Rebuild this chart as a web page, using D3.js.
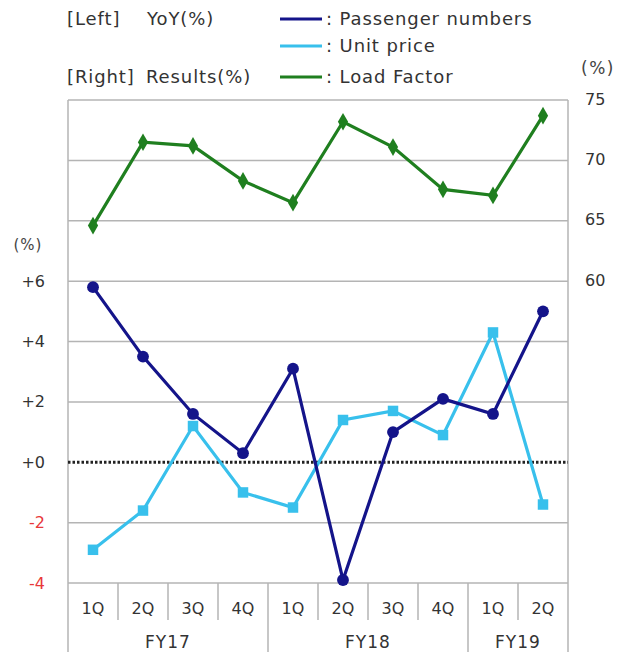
<!DOCTYPE html>
<html>
<head>
<meta charset="utf-8">
<script src="https://cdn.jsdelivr.net/npm/d3@7"></script>
<style>
  html, body { margin: 0; padding: 0; background: #fff; }
  svg { display: block; font-family: "DejaVu Sans", Verdana, sans-serif; }
</style>
</head>
<body>
<svg id="chart" width="623" height="652"></svg>
<script>
// Quarterly categories and fiscal-year groups
const quarters = ["1Q", "2Q", "3Q", "4Q", "1Q", "2Q", "3Q", "4Q", "1Q", "2Q"];
const fiscalYears = [
  { label: "FY17", start: 0, count: 4 },
  { label: "FY18", start: 4, count: 4 },
  { label: "FY19", start: 8, count: 2 }
];

// Left axis: year-over-year change (%)
const passengerYoY = [5.8, 3.5, 1.6, 0.3, 3.1, -3.9, 1.0, 2.1, 1.6, 5.0];
const unitPriceYoY = [-2.9, -1.6, 1.2, -1.0, -1.5, 1.4, 1.7, 0.9, 4.3, -1.4];
// Right axis: load factor results (%)
const loadFactor = [64.6, 71.5, 71.2, 68.3, 66.5, 73.2, 71.1, 67.6, 67.1, 73.7];

const leftTicks = [-4, -2, 0, 2, 4, 6];
const leftTickLabels = ["-4", "-2", "+0", "+2", "+4", "+6"];
const rightTicks = [60, 65, 70, 75];
const gridLeft = [-2, 2, 4, 6, 8, 10];

const colors = { passenger: "#14148a", unit: "#38c0ec", load: "#1f7f1f", grid: "#b4b4b4", red: "#e8383a", text: "#333" };

const svg = d3.select("#chart");
const m = { left: 68, right: 568, top: 100, bottom: 583 };

const x = d3.scaleBand().domain(d3.range(quarters.length)).range([m.left, m.right]);
const yL = d3.scaleLinear().domain([-4, 12]).range([m.bottom, m.top]);
const yR = d3.scaleLinear().domain([35, 75]).range([m.bottom, m.top]);
const cx = i => x(i) + x.bandwidth() / 2;

// Horizontal gridlines
svg.append("g").selectAll("line").data(gridLeft).join("line")
  .attr("x1", m.left).attr("x2", m.right)
  .attr("y1", d => yL(d)).attr("y2", d => yL(d))
  .attr("stroke", colors.grid).attr("stroke-width", 1.5);

// Plot frame (top, sides) and x baseline
const frame = svg.append("g").attr("stroke", colors.grid).attr("stroke-width", 1.5);
frame.append("line").attr("x1", m.left).attr("x2", m.right).attr("y1", m.top).attr("y2", m.top);
frame.append("line").attr("x1", m.left).attr("x2", m.right).attr("y1", m.bottom).attr("y2", m.bottom);
frame.append("line").attr("x1", m.left).attr("x2", m.left).attr("y1", m.top).attr("y2", 652);
frame.append("line").attr("x1", m.right).attr("x2", m.right).attr("y1", m.top).attr("y2", 652);

// Category separators below the axis
const boundaries = d3.range(1, quarters.length);
const groupStarts = new Set(fiscalYears.map(g => g.start));
frame.append("g").selectAll("line").data(boundaries).join("line")
  .attr("x1", d => x(d)).attr("x2", d => x(d))
  .attr("y1", m.bottom).attr("y2", d => groupStarts.has(d) ? 652 : 620);

// Quarter labels
svg.append("g").selectAll("text").data(quarters).join("text")
  .attr("x", (d, i) => cx(i)).attr("y", 608).attr("dy", "0.35em")
  .attr("text-anchor", "middle").attr("font-size", 16).attr("fill", colors.text)
  .text(d => d);

// Fiscal-year labels
svg.append("g").selectAll("text").data(fiscalYears).join("text")
  .attr("x", d => (x(d.start) + x(d.start + d.count - 1) + x.bandwidth()) / 2).attr("y", 642).attr("dy", "0.35em")
  .attr("text-anchor", "middle").attr("font-size", 17).attr("letter-spacing", 1).attr("fill", colors.text)
  .text(d => d.label);

// Zero reference line (dotted)
svg.append("line").attr("x1", m.left).attr("x2", m.right)
  .attr("y1", yL(0)).attr("y2", yL(0))
  .attr("stroke", "#222").attr("stroke-width", 3).attr("stroke-dasharray", "2.5,2");

// Left axis labels
svg.append("g").selectAll("text").data(leftTicks).join("text")
  .attr("x", 45).attr("y", d => yL(d)).attr("dy", "0.35em")
  .attr("text-anchor", "end").attr("font-size", 16)
  .attr("fill", d => d < 0 ? colors.red : colors.text)
  .text((d, i) => leftTickLabels[i]);
svg.append("text").attr("x", 28).attr("y", 245).attr("dy", "0.35em")
  .attr("text-anchor", "middle").attr("font-size", 15).attr("letter-spacing", 1).attr("fill", "#444").text("(%)");

// Right axis labels
svg.append("g").selectAll("text").data(rightTicks).join("text")
  .attr("x", 585).attr("y", d => yR(d) - 1).attr("dy", "0.35em")
  .attr("font-size", 16).attr("fill", colors.text)
  .text(d => d);
svg.append("text").attr("x", 598).attr("y", 68).attr("dy", "0.35em")
  .attr("text-anchor", "middle").attr("font-size", 17).attr("letter-spacing", 1.5).attr("fill", "#444").text("(%)");

// Series lines
const lineL = d3.line().x((d, i) => cx(i)).y(d => yL(d));
const lineR = d3.line().x((d, i) => cx(i)).y(d => yR(d));

svg.append("path").datum(loadFactor).attr("d", lineR)
  .attr("fill", "none").attr("stroke", colors.load).attr("stroke-width", 3.2);
svg.append("path").datum(unitPriceYoY).attr("d", lineL)
  .attr("fill", "none").attr("stroke", colors.unit).attr("stroke-width", 3.2);
svg.append("path").datum(passengerYoY).attr("d", lineL)
  .attr("fill", "none").attr("stroke", colors.passenger).attr("stroke-width", 3.2);

// Markers
const diamond = d3.symbol().type(d3.symbolDiamond).size(90);
const square = d3.symbol().type(d3.symbolSquare).size(110);
const circle = d3.symbol().type(d3.symbolCircle).size(110);

svg.append("g").selectAll("path").data(loadFactor).join("path")
  .attr("transform", (d, i) => `translate(${cx(i)},${yR(d)})`)
  .attr("d", diamond).attr("fill", colors.load);
svg.append("g").selectAll("path").data(unitPriceYoY).join("path")
  .attr("transform", (d, i) => `translate(${cx(i)},${yL(d)})`)
  .attr("d", square).attr("fill", colors.unit);
svg.append("g").selectAll("path").data(passengerYoY).join("path")
  .attr("transform", (d, i) => `translate(${cx(i)},${yL(d)})`)
  .attr("d", circle).attr("fill", colors.passenger);

// Legend
const legend = [
  { label: ": Passenger numbers", color: colors.passenger, sym: d3.symbol().type(d3.symbolCircle).size(55), y: 19 },
  { label: ": Unit price", color: colors.unit, sym: d3.symbol().type(d3.symbolSquare).size(50), y: 46 },
  { label: ": Load Factor", color: colors.load, sym: d3.symbol().type(d3.symbolDiamond).size(50), y: 77 }
];
const lg = svg.append("g").selectAll("g").data(legend).join("g");
lg.append("line").attr("x1", 280).attr("x2", 322).attr("y1", d => d.y).attr("y2", d => d.y)
  .attr("stroke", d => d.color).attr("stroke-width", 3);
lg.append("path").attr("transform", d => `translate(300,${d.y})`).attr("d", d => d.sym).attr("fill", d => d.color);
lg.append("text").attr("x", 326).attr("y", d => d.y).attr("dy", "0.35em")
  .attr("font-size", 18).attr("letter-spacing", 0.9).attr("fill", colors.text).text(d => d.label);

// Axis side captions
const captions = [
  { text: "[Left]", x: 67, y: 19 },
  { text: "YoY(%)", x: 147, y: 19 },
  { text: "[Right]", x: 67, y: 77 },
  { text: "Results(%)", x: 146, y: 77 }
];
svg.append("g").selectAll("text").data(captions).join("text")
  .attr("x", d => d.x).attr("y", d => d.y).attr("dy", "0.35em")
  .attr("font-size", 18).attr("letter-spacing", 0.9).attr("fill", colors.text)
  .text(d => d.text);
</script>
</body>
</html>
